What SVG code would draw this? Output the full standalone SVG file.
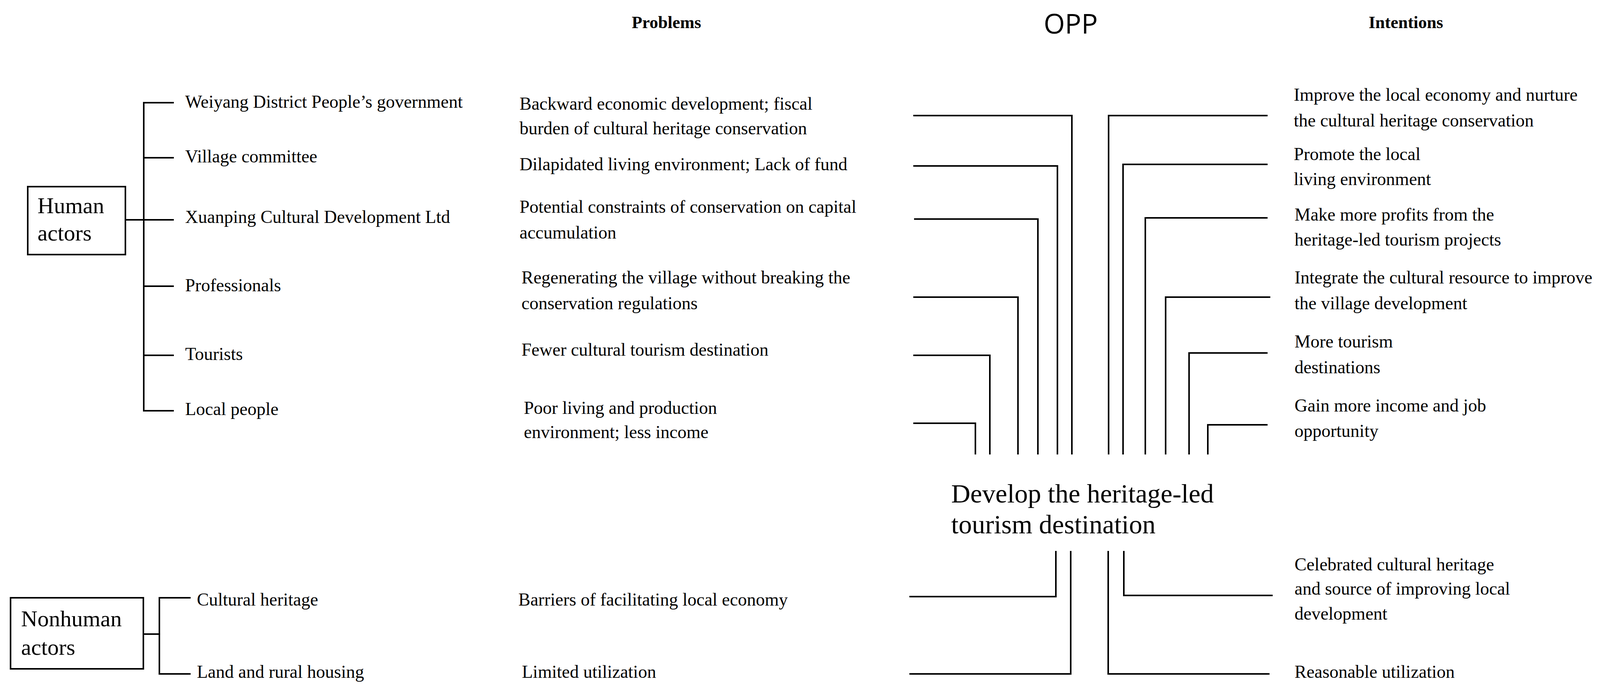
<svg xmlns="http://www.w3.org/2000/svg" width="4205" height="1780" viewBox="0 0 4205 1780">
<style>
text{font-family:"Liberation Serif",serif;font-size:46px;fill:#000}
.h{font-weight:bold;font-size:44px;text-anchor:middle}
.opp{font-family:"Open Sans","Liberation Sans",sans-serif;font-size:70px;text-anchor:middle}
.big{font-size:58px}
.c{font-size:68px}
line,rect,polyline{stroke:#000;stroke-width:4;fill:none}
</style>
<rect width="4205" height="1780" fill="#fff" style="stroke:none"/>
<text class="h" x="1706" y="72">Problems</text>
<text class="opp" x="2741" y="86">OPP</text>
<text class="h" x="3599" y="72">Intentions</text>

<g id="human-actors"><rect x="71" y="478" width="250" height="174"/><text class="big" x="96" y="546">Human</text><text class="big" x="96" y="616">actors</text></g>
<g id="nonhuman-actors"><rect x="27" y="1531" width="340" height="182"/><text class="big" x="54" y="1604">Nonhuman</text><text class="big" x="54" y="1677">actors</text></g>

<g id="actor-weiyang"><text x="474" y="276">Weiyang District People’s government</text></g>
<g id="actor-village"><text x="474" y="416">Village committee</text></g>
<g id="actor-xuanping"><text x="474" y="571">Xuanping Cultural Development Ltd</text></g>
<g id="actor-professionals"><text x="474" y="746">Professionals</text></g>
<g id="actor-tourists"><text x="474" y="922">Tourists</text></g>
<g id="actor-local"><text x="474" y="1063">Local people</text></g>
<g id="actor-cultural"><text x="504" y="1551">Cultural heritage</text></g>
<g id="actor-land"><text x="504" y="1736">Land and rural housing</text></g>

<g id="problems">
<text x="1330" y="281">Backward economic development; fiscal</text><text x="1330" y="344">burden of cultural heritage conservation</text>
<text x="1330" y="436">Dilapidated living environment; Lack of fund</text>
<text x="1330" y="545">Potential constraints of conservation on capital</text><text x="1330" y="611">accumulation</text>
<text x="1335" y="726">Regenerating the village without breaking the</text><text x="1335" y="792">conservation regulations</text>
<text x="1335" y="911">Fewer cultural tourism destination</text>
<text x="1341" y="1060">Poor living and production</text><text x="1341" y="1122">environment; less income</text>
<text x="1327" y="1551">Barriers of facilitating local economy</text>
<text x="1336" y="1736">Limited utilization</text>
</g>

<g id="opp"><text class="c" x="2435" y="1287">Develop the heritage-led</text><text class="c" x="2435" y="1366">tourism destination</text></g>

<g id="intentions">
<text x="3312" y="258">Improve the local economy and nurture</text><text x="3312" y="324">the cultural heritage conservation</text>
<text x="3312" y="410">Promote the local</text><text x="3312" y="474">living environment</text>
<text x="3314" y="565">Make more profits from the</text><text x="3314" y="629">heritage-led tourism projects</text>
<text x="3314" y="726">Integrate the cultural resource to improve</text><text x="3314" y="792">the village development</text>
<text x="3314" y="890">More tourism</text><text x="3314" y="956">destinations</text>
<text x="3314" y="1054">Gain more income and job</text><text x="3314" y="1119">opportunity</text>
<text x="3314" y="1461">Celebrated cultural heritage</text><text x="3314" y="1523">and source of improving local</text><text x="3314" y="1587">development</text>
<text x="3314" y="1736">Reasonable utilization</text>
</g>

<g id="connectors">
<line x1="368" y1="263" x2="368" y2="1052"/>
<line x1="321" y1="563" x2="368" y2="563"/>
<line x1="366" y1="263" x2="445" y2="263"/>
<line x1="368" y1="404" x2="445" y2="404"/>
<line x1="368" y1="563" x2="445" y2="563"/>
<line x1="368" y1="733" x2="445" y2="733"/>
<line x1="368" y1="910" x2="445" y2="910"/>
<line x1="366" y1="1052" x2="445" y2="1052"/>
<line x1="408" y1="1531" x2="408" y2="1726"/>
<line x1="367" y1="1624" x2="408" y2="1624"/>
<line x1="406" y1="1531" x2="488" y2="1531"/>
<line x1="406" y1="1726" x2="488" y2="1726"/>

<polyline points="2338,296 2744,296 2744,1164"/>
<polyline points="2338,425 2707,425 2707,1164"/>
<polyline points="2340,561 2657,561 2657,1164"/>
<polyline points="2338,761 2606,761 2606,1164"/>
<polyline points="2338,910 2534,910 2534,1164"/>
<polyline points="2338,1084 2497,1084 2497,1164"/>

<polyline points="3245,296 2838,296 2838,1164"/>
<polyline points="3245,421 2875,421 2875,1164"/>
<polyline points="3245,558 2932,558 2932,1164"/>
<polyline points="3252,761 2984,761 2984,1164"/>
<polyline points="3245,904 3044,904 3044,1164"/>
<polyline points="3245,1088 3092,1088 3092,1164"/>

<polyline points="2328,1528 2703,1528 2703,1411"/>
<polyline points="2328,1726 2741,1726 2741,1411"/>
<polyline points="3250,1726 2837,1726 2837,1411"/>
<polyline points="3258,1525 2877,1525 2877,1411"/>
</g>
</svg>
